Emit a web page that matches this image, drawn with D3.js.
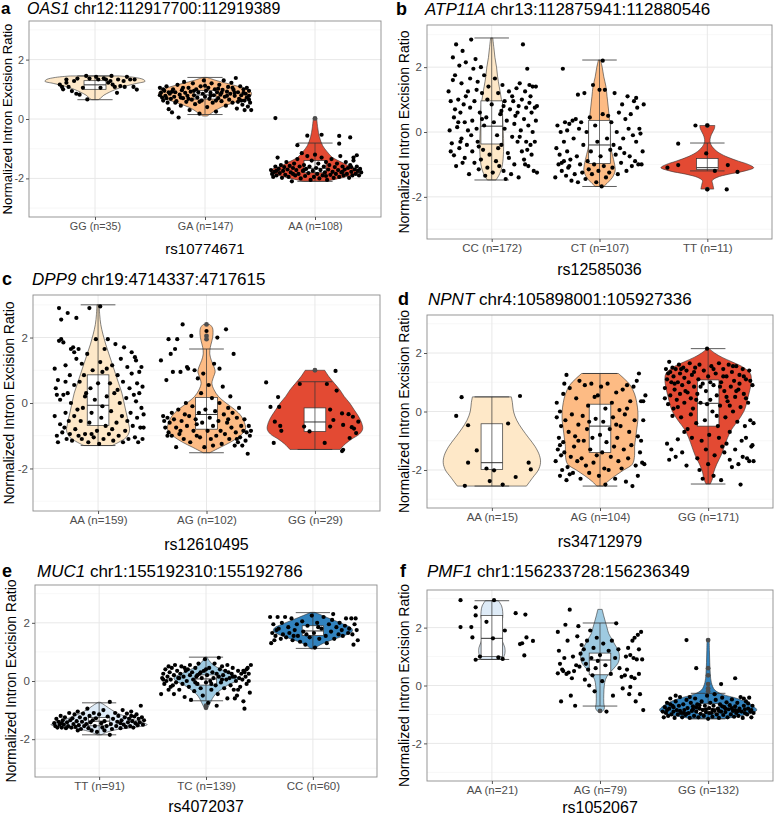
<!DOCTYPE html>
<html>
<head>
<meta charset="utf-8">
<script src="https://cdn.jsdelivr.net/npm/d3@7"></script>
<style>
  body { margin: 0; background: #fff; }
  svg { display: block; }
  text { font-family: "Liberation Sans", Arial, Helvetica, sans-serif; }
</style>
</head>
<body>
<svg id="chart" width="775" height="817"></svg>
<script>

// ---- panel texts ----
const letters = ['a', 'b', 'c', 'd', 'e', 'f'];
const genes = ['OAS1', 'ATP11A', 'DPP9', 'NPNT', 'MUC1', 'PMF1'];
const loci = ['chr12:112917700:112919389', 'chr13:112875941:112880546', 'chr19:4714337:4717615',
  'chr4:105898001:105927336', 'chr1:155192310:155192786', 'chr1:156233728:156236349'];
const snps = ['rs10774671', 'rs12585036', 'rs12610495', 'rs34712979', 'rs4072037', 'rs1052067'];
const yTicks = [-2, 0, 2];
const yMinor = [-3, -1, 1, 3];

// ---- panel a : OAS1 ----
const groupsA = ['GG (n=35)', 'GA (n=147)', 'AA (n=108)'];
// [lower whisker, q1, median, q3, upper whisker]
const boxA = [[0.65, 1.0, 1.15, 1.29, 1.45], [0.15, 0.67, 0.81, 0.96, 1.4], [-2.1, -1.81, -1.66, -1.40, -0.81]];
// violin outline: [value, half width in category units]
const violinA = [
  [[1.45, 0.22], [1.40, 0.36], [1.33, 0.44], [1.27, 0.455], [1.2, 0.38], [1.1, 0.27], [1.0, 0.19], [0.9, 0.13], [0.8, 0.08], [0.7, 0.05], [0.65, 0.03]],
  [[1.4, 0.02], [1.3, 0.1], [1.2, 0.2], [1.1, 0.3], [1.0, 0.38], [0.9, 0.42], [0.8, 0.42], [0.7, 0.38], [0.6, 0.3], [0.5, 0.22], [0.4, 0.15], [0.3, 0.1], [0.2, 0.06], [0.1, 0.02]],
  [[0.03, 0.015], [-0.3, 0.025], [-0.6, 0.04], [-0.9, 0.07], [-1.1, 0.11], [-1.3, 0.16], [-1.45, 0.24], [-1.6, 0.32], [-1.7, 0.39], [-1.8, 0.4], [-1.9, 0.33], [-2.0, 0.22], [-2.1, 0.1]]
];
const outliersA = [[], [], [0.02]];
// jittered samples: [x offset, value]
const pointsA = [
  [[-0.32,1.16],[-0.24,1.08],[-0.26,1.33],[-0.19,1.28],[-0.16,1.36],[-0.08,1.45],[-0.17,0.85],[-0.07,0.66],[0.03,1.33],[0.08,1.37],[0.1,1.33],[0.14,1.28],[0.16,1.16],[0.18,1.08],[0.21,1.33],[0.2,0.88],[0.26,1.28],[0.29,1.42],[0.32,1.33],[0.35,1.08],[0.38,0.99],[0.36,1.33],[-0.21,0.94],[-0.26,1.22],[-0.3,1.08],[-0.11,1.05],[-0.05,1.36],[0.05,1.05],[0.12,1.22],[0.23,1.11],[-0.14,0.82],[0.15,1.45],[0.27,1.08],[-0.29,1.0],[0.01,1.42]],
  [[-0.41,1.05],[-0.40,0.88],[-0.39,0.72],[-0.38,0.62],[-0.37,0.95],[-0.36,0.78],[-0.35,1.1],[-0.34,0.55],[-0.33,0.33],[-0.32,0.85],[-0.31,0.68],[-0.30,0.22],[-0.29,1.0],[-0.28,0.75],[-0.27,0.9],[-0.26,0.6],[-0.25,1.15],[-0.24,0.05],[-0.23,0.82],[-0.22,0.45],[-0.21,0.97],[-0.20,0.7],[-0.19,1.25],[-0.18,0.88],[-0.17,0.58],[-0.16,0.78],[-0.15,1.05],[-0.14,0.3],[-0.13,0.92],[-0.12,0.65],[-0.11,1.2],[-0.10,0.8],[-0.09,0.5],[-0.08,1.0],[-0.07,0.72],[-0.06,0.9],[-0.05,0.18],[-0.04,1.1],[-0.03,0.62],[-0.02,0.85],[-0.01,1.3],[0.0,0.75],[0.01,0.95],[0.02,0.4],[0.03,1.05],[0.04,0.68],[0.05,0.88],[0.06,1.2],[0.07,0.55],[0.08,0.8],[0.09,1.0],[0.10,0.25],[0.11,0.9],[0.12,0.7],[0.13,1.15],[0.14,0.82],[0.15,0.6],[0.16,0.98],[0.17,1.3],[0.18,0.75],[0.19,0.45],[0.20,0.92],[0.21,1.08],[0.22,0.65],[0.23,0.85],[0.24,1.22],[0.25,0.55],[0.26,0.98],[0.27,0.78],[0.28,1.38],[0.29,0.35],[0.30,0.9],[0.31,0.68],[0.32,1.1],[0.33,0.8],[0.34,0.48],[0.35,1.0],[0.36,0.62],[0.37,0.85],[0.38,0.72],[0.39,0.42],[0.40,0.95],[0.41,0.55],[0.42,0.3],[0.40,0.78],[0.38,1.05],[0.36,0.3],[0.33,0.62],[-0.41,0.8],[-0.38,1.0],[-0.35,0.7],[-0.3,0.92],[-0.27,0.55],[-0.2,1.05],[-0.15,0.68],[-0.1,0.95],[-0.05,0.58],[0.0,1.12],[0.05,0.78],[0.1,0.62],[0.15,0.88],[0.2,0.78],[0.25,1.05],[0.3,0.58],[0.35,0.88],[0.4,0.65],[-0.33,0.9],[-0.22,0.72],[0.12,1.02],[0.27,0.88]],
  [[-0.36,0.03],[-0.07,-0.56],[0.06,-0.53],[0.22,-0.57],[0.32,-0.62],[-0.16,-0.88],[0.22,-0.83],[-0.40,-1.72],[-0.39,-1.85],[-0.38,-1.95],[-0.37,-1.78],[-0.36,-1.6],[-0.35,-1.9],[-0.34,-1.3],[-0.33,-1.68],[-0.32,-1.82],[-0.31,-1.55],[-0.30,-1.98],[-0.29,-1.75],[-0.28,-1.62],[-0.27,-1.88],[-0.26,-1.45],[-0.25,-1.7],[-0.24,-1.95],[-0.23,-1.58],[-0.22,-1.8],[-0.21,-2.1],[-0.2,-1.65],[-0.19,-1.5],[-0.18,-1.9],[-0.17,-1.72],[-0.16,-1.35],[-0.15,-1.85],[-0.14,-1.6],[-0.13,-2.0],[-0.12,-1.15],[-0.11,-1.75],[-0.1,-1.55],[-0.09,-1.92],[-0.08,-1.68],[-0.07,-1.25],[-0.06,-1.82],[-0.05,-1.6],[-0.04,-2.05],[-0.03,-1.4],[-0.02,-1.75],[-0.01,-1.95],[0.0,-1.2],[0.01,-1.65],[0.02,-1.85],[0.03,-1.5],[0.04,-2.0],[0.05,-1.72],[0.06,-1.3],[0.07,-1.9],[0.08,-1.6],[0.09,-1.8],[0.1,-1.45],[0.11,-2.05],[0.12,-1.7],[0.13,-1.55],[0.14,-1.88],[0.15,-1.35],[0.16,-1.78],[0.17,-1.98],[0.18,-1.62],[0.19,-1.85],[0.2,-1.5],[0.21,-1.72],[0.22,-1.95],[0.23,-1.25],[0.24,-1.8],[0.25,-1.6],[0.26,-1.9],[0.27,-1.7],[0.28,-1.45],[0.29,-1.85],[0.3,-1.65],[0.31,-1.98],[0.32,-1.55],[0.33,-1.78],[0.34,-1.9],[0.35,-1.4],[0.36,-1.7],[0.37,-1.85],[0.38,-1.6],[0.39,-1.75],[0.4,-1.9],[0.41,-1.68],[0.42,-1.8],[0.38,-1.22],[0.35,-1.3],[-0.35,-1.75],[-0.2,-1.85],[-0.1,-1.72],[0.1,-1.92],[0.25,-1.78],[0.33,-1.62]]
];

// ---- panel b : ATP11A ----
const groupsB = ['CC (n=172)', 'CT (n=107)', 'TT (n=11)'];
const boxB = [[-1.48, -0.37, 0.18, 0.96, 2.9], [-1.68, -0.97, -0.4, 0.36, 2.22], [-1.2, -1.16, -1.1, -0.82, -0.34]];
const violinB = [
  [[2.9, 0.01], [2.6, 0.02], [2.3, 0.03], [2.0, 0.045], [1.7, 0.055], [1.4, 0.07], [1.0, 0.09], [0.6, 0.1], [0.2, 0.105], [-0.2, 0.11], [-0.6, 0.11], [-1.0, 0.1], [-1.2, 0.085], [-1.35, 0.065], [-1.48, 0.04]],
  [[2.22, 0.01], [2.0, 0.025], [1.7, 0.04], [1.4, 0.06], [1.1, 0.07], [0.8, 0.08], [0.5, 0.09], [0.2, 0.095], [-0.1, 0.1], [-0.4, 0.1], [-0.7, 0.12], [-1.0, 0.14], [-1.2, 0.145], [-1.4, 0.12], [-1.55, 0.08], [-1.68, 0.04]],
  [[0.2, 0.07], [0.1, 0.065], [0.0, 0.05], [-0.15, 0.03], [-0.3, 0.025], [-0.45, 0.045], [-0.6, 0.09], [-0.75, 0.17], [-0.9, 0.29], [-1.0, 0.38], [-1.1, 0.43], [-1.2, 0.35], [-1.3, 0.2], [-1.4, 0.09], [-1.5, 0.045], [-1.6, 0.05], [-1.76, 0.06]]
];
const outliersB = [[], [], [0.2, -1.76]];
const pointsB = [
  [[-0.4,1.25],[-0.39,0.05],[-0.38,0.95],[-0.37,-0.35],[-0.36,2.3],[-0.35,0.45],[-0.35,-0.72],[-0.34,1.75],[-0.33,2.7],[-0.33,-1.05],[-0.32,0.15],[-0.31,1.0],[-0.3,-0.5],[-0.3,2.05],[-0.29,0.6],[-0.28,-0.2],[-0.28,1.5],[-0.27,2.5],[-0.26,0.85],[-0.25,-0.8],[-0.25,0.3],[-0.24,2.15],[-0.23,-0.4],[-0.22,1.25],[-0.22,0.05],[-0.21,-1.3],[-0.2,0.75],[-0.2,1.65],[-0.19,2.85],[-0.18,-0.6],[-0.18,0.35],[-0.17,1.95],[-0.16,-0.95],[-0.16,0.95],[-0.15,2.25],[-0.14,0.1],[-0.13,-0.3],[-0.13,1.55],[-0.12,-1.15],[-0.11,0.6],[-0.1,2.0],[-0.1,-0.85],[-0.09,1.2],[-0.08,-0.55],[-0.07,0.2],[-0.07,1.75],[-0.06,-1.35],[-0.05,0.45],[-0.04,-1.1],[-0.03,1.4],[-0.02,-0.7],[0.0,0.85],[0.01,-1.25],[0.02,0.3],[0.03,1.65],[0.04,-0.9],[0.05,-0.1],[0.06,1.2],[0.07,-1.05],[0.08,0.55],[0.09,-0.4],[0.1,1.45],[0.11,-1.2],[0.12,0.1],[0.12,0.95],[0.13,-1.45],[0.14,0.35],[0.15,-0.65],[0.16,1.25],[0.17,0.7],[0.18,-1.3],[0.19,-0.15],[0.2,0.95],[0.21,-1.0],[0.22,0.5],[0.23,1.35],[0.24,-0.3],[0.25,-1.4],[0.25,0.8],[0.26,1.5],[0.27,0.05],[0.28,-0.6],[0.28,1.0],[0.29,2.7],[0.3,0.4],[0.3,-0.85],[0.31,1.25],[0.32,-0.3],[0.32,0.75],[0.33,1.95],[0.34,-1.05],[0.34,0.2],[0.35,0.9],[0.35,1.45],[0.36,-0.4],[0.37,0.6],[0.37,-0.7],[0.38,1.4],[0.38,0.0],[0.39,-1.2],[0.4,0.75],[0.4,-0.3],[0.41,1.4],[0.41,0.35],[0.42,-1.25],[0.42,0.8],[-0.38,-0.6],[-0.36,1.6],[-0.31,0.3],[-0.27,-0.95],[-0.24,1.1],[-0.19,-0.1],[-0.14,1.3],[-0.09,0.4],[-0.04,1.0],[0.06,-0.5],[0.11,0.8],[0.16,-0.8],[0.21,0.25],[0.26,-0.15],[0.31,-1.0],[0.36,1.1],[-0.34,0.7],[-0.29,-0.3],[-0.12,-0.45],[0.09,0.65],[0.19,1.1],[0.24,0.6],[0.33,-0.55]],
  [[-0.41,-1.4],[-0.4,-0.5],[-0.39,0.2],[-0.38,-1.0],[-0.37,-0.7],[-0.36,0.0],[-0.35,-1.2],[-0.34,1.95],[-0.33,-0.3],[-0.33,-0.9],[-0.32,0.3],[-0.31,-1.35],[-0.3,-0.6],[-0.3,0.05],[-0.29,-1.1],[-0.28,0.25],[-0.27,-0.85],[-0.26,-1.5],[-0.25,0.35],[-0.24,-0.2],[-0.23,-1.3],[-0.22,0.4],[-0.21,-0.75],[-0.2,1.15],[-0.2,-1.55],[-0.19,0.1],[-0.18,-1.0],[-0.17,0.3],[-0.16,-1.25],[-0.15,-0.4],[-0.14,1.2],[-0.13,-1.45],[-0.12,0.0],[-0.11,-0.9],[-0.1,-1.15],[-0.09,0.45],[-0.08,-0.6],[-0.07,-1.3],[-0.06,1.45],[-0.05,-1.0],[-0.04,0.2],[-0.03,-1.55],[-0.02,-0.3],[-0.01,-1.2],[0.0,1.3],[0.01,-0.75],[0.02,-1.68],[0.03,0.55],[0.04,-1.05],[0.05,1.3],[0.06,-1.4],[0.07,-0.2],[0.08,0.5],[0.09,-1.25],[0.1,-0.55],[0.11,0.3],[0.12,-1.1],[0.13,-0.4],[0.14,1.2],[0.15,-0.7],[0.16,0.0],[0.17,-1.3],[0.18,0.6],[0.19,-0.5],[0.2,-0.95],[0.21,0.85],[0.22,-0.2],[0.23,-0.65],[0.24,0.4],[0.25,-1.2],[0.26,1.1],[0.27,0.1],[0.28,-0.75],[0.29,0.55],[0.3,-1.05],[0.31,-0.1],[0.32,0.95],[0.33,-0.9],[0.34,-0.3],[0.35,0.75],[0.36,-1.0],[0.37,0.1],[0.38,-0.05],[0.39,-1.0],[0.4,-0.6],[0.41,0.85],[0.34,1.05],[-0.35,-0.95],[-0.28,-1.05],[0.03,2.2]],
  [[-0.37,-1.1],[-0.27,-1.02],[-0.27,-0.36],[-0.11,0.2],[0.0,0.2],[-0.01,-0.66],[0.0,-1.77],[0.07,-1.2],[0.19,-1.02],[0.28,-1.23],[0.18,-1.77]]
];

// ---- panel c : DPP9 ----
const groupsC = ['AA (n=159)', 'AG (n=102)', 'GG (n=29)'];
const boxC = [[-1.3, -0.69, -0.07, 0.86, 3.0], [-1.52, -0.8, -0.35, 0.17, 1.65], [-1.42, -0.87, -0.58, -0.15, 0.65]];
const violinC = [
  [[3.0, 0.01], [2.7, 0.015], [2.4, 0.025], [2.1, 0.045], [1.8, 0.07], [1.5, 0.1], [1.2, 0.13], [0.9, 0.16], [0.6, 0.19], [0.3, 0.22], [0.0, 0.24], [-0.3, 0.26], [-0.6, 0.28], [-0.85, 0.29], [-1.05, 0.26], [-1.2, 0.19], [-1.3, 0.13]],
  [[2.4, 0.03], [2.3, 0.055], [2.1, 0.06], [1.9, 0.05], [1.7, 0.035], [1.5, 0.03], [1.3, 0.045], [1.1, 0.07], [0.95, 0.08], [0.8, 0.065], [0.6, 0.05], [0.4, 0.07], [0.2, 0.11], [0.0, 0.18], [-0.2, 0.26], [-0.4, 0.32], [-0.6, 0.35], [-0.8, 0.36], [-1.0, 0.31], [-1.2, 0.22], [-1.35, 0.13], [-1.52, 0.03]],
  [[1.0, 0.09], [0.8, 0.13], [0.6, 0.18], [0.4, 0.23], [0.2, 0.27], [0.0, 0.32], [-0.2, 0.36], [-0.4, 0.4], [-0.6, 0.43], [-0.8, 0.44], [-0.95, 0.41], [-1.1, 0.34], [-1.25, 0.28], [-1.42, 0.23]]
];
const outliersC = [[], [2.4, 2.05, 1.95], [1.0]];
const pointsC = [
  [[-0.4,1.05],[-0.4,-0.4],[-0.39,0.45],[-0.38,-1.0],[-0.37,-1.2],[-0.37,0.7],[-0.36,2.9],[-0.36,1.9],[-0.35,-0.65],[-0.35,0.1],[-0.34,2.55],[-0.34,1.95],[-0.33,-0.9],[-0.32,0.25],[-0.32,1.85],[-0.31,-0.75],[-0.3,-0.3],[-0.3,0.65],[-0.29,-1.1],[-0.28,2.75],[-0.28,0.3],[-0.27,-0.55],[-0.26,-0.95],[-0.25,1.65],[-0.25,0.0],[-0.24,-1.15],[-0.23,1.7],[-0.22,-0.4],[-0.22,0.55],[-0.21,-0.8],[-0.2,2.6],[-0.2,1.35],[-0.19,-0.2],[-0.18,1.65],[-0.18,-1.0],[-0.17,0.65],[-0.16,-0.55],[-0.15,1.2],[-0.15,-1.1],[-0.14,-0.15],[-0.13,0.85],[-0.12,-0.95],[-0.11,0.3],[-0.1,1.5],[-0.09,-1.2],[-0.08,2.9],[-0.08,-0.6],[-0.07,0.45],[-0.06,-0.3],[-0.05,1.0],[-0.04,-1.05],[-0.03,0.1],[-0.02,1.95],[-0.01,-0.85],[0.0,0.6],[0.01,-1.25],[0.02,1.25],[0.03,-0.45],[0.04,0.95],[0.05,-1.1],[0.06,1.65],[0.07,-0.7],[0.08,0.2],[0.09,1.95],[0.1,-0.95],[0.11,0.6],[0.12,-0.25],[0.13,1.15],[0.14,-1.15],[0.15,0.3],[0.16,1.8],[0.17,-0.6],[0.18,0.85],[0.19,-1.0],[0.2,0.0],[0.21,1.35],[0.22,-0.4],[0.23,0.65],[0.24,1.7],[0.25,-0.85],[0.26,0.15],[0.27,1.1],[0.28,-1.1],[0.29,0.45],[0.3,-0.3],[0.31,1.55],[0.31,0.9],[0.32,-0.7],[0.33,0.25],[0.34,-1.05],[0.34,1.4],[0.35,0.05],[0.36,0.6],[0.36,-0.45],[0.37,-1.2],[0.38,0.95],[0.38,0.3],[0.39,-0.75],[0.4,1.1],[0.4,-0.15],[0.41,-1.1],[0.41,0.5],[0.42,-0.35],[0.42,-0.75],[-0.3,1.15],[-0.22,1.55],[-0.12,0.2],[0.02,2.95],[0.08,1.05],[0.18,0.4],[0.27,-0.55],[0.35,1.3],[-0.38,0.25],[-0.06,-0.95],[0.13,-0.8],[0.23,-1.2],[-0.26,0.85],[0.04,-0.1]],
  [[-0.42,1.3],[-0.4,-0.4],[-0.39,-0.55],[-0.38,-0.75],[-0.37,0.7],[-0.36,-0.45],[-0.35,1.95],[-0.35,-0.9],[-0.34,-0.6],[-0.33,1.5],[-0.32,-0.3],[-0.32,-1.0],[-0.31,0.95],[-0.3,-0.5],[-0.29,1.65],[-0.28,-0.75],[-0.28,-1.35],[-0.27,1.95],[-0.26,-0.2],[-0.25,-0.95],[-0.24,0.95],[-0.23,-0.55],[-0.22,2.4],[-0.21,-1.1],[-0.2,-0.35],[-0.19,0.0],[-0.18,-0.7],[-0.17,1.05],[-0.16,-0.4],[-0.15,-1.2],[-0.14,2.05],[-0.13,-0.1],[-0.12,-0.85],[-0.11,1.0],[-0.1,-0.5],[-0.09,-1.0],[-0.08,0.75],[-0.07,-0.3],[-0.06,-1.05],[-0.05,0.3],[-0.04,-0.6],[-0.03,0.9],[-0.02,-1.35],[-0.01,-0.2],[0.0,2.2],[0.01,-0.85],[0.02,0.55],[0.03,-0.45],[0.04,-1.1],[0.05,0.15],[0.06,-0.7],[0.07,1.2],[0.08,-0.25],[0.09,-1.0],[0.1,2.0],[0.11,-0.55],[0.12,0.0],[0.13,-0.85],[0.14,-1.25],[0.15,0.5],[0.16,-0.35],[0.17,-0.95],[0.18,2.25],[0.19,-0.6],[0.2,-0.15],[0.21,-1.1],[0.22,0.2],[0.23,-0.75],[0.24,-0.3],[0.25,1.5],[0.26,-1.3],[0.27,-0.9],[0.28,-0.45],[0.29,-1.2],[0.3,-0.15],[0.31,-1.05],[0.32,-0.7],[0.33,-1.3],[0.34,-0.85],[0.35,-0.5],[0.36,-1.15],[0.37,-0.9],[0.38,-1.55],[0.39,-0.7],[0.4,-1.0],[0.41,-0.85],[-0.36,-1.0],[-0.24,-0.85],[-0.09,-0.65],[0.06,-1.3],[0.2,-0.5],[0.28,-1.1],[-0.18,1.1],[0.12,1.05]],
  [[-0.45,0.63],[-0.38,-1.22],[-0.41,-0.12],[-0.34,0.18],[-0.33,-0.12],[-0.32,-0.7],[-0.31,-0.85],[-0.37,-0.57],[-0.14,0.58],[-0.1,-0.72],[-0.05,-0.87],[0.11,0.58],[0.19,0.98],[0.2,0.38],[0.14,-0.2],[0.17,-0.52],[0.09,-1.22],[0.25,-0.32],[0.26,-0.67],[0.31,-0.34],[0.35,-0.42],[0.32,-1.07],[0.26,-1.43],[0.25,-1.47],[0.36,-0.78],[0.4,-0.57],[0.38,-0.92],[0.34,-0.74],[0.14,-0.72]]
];

// ---- panel d : NPNT ----
const groupsD = ['AA (n=15)', 'AG (n=104)', 'GG (n=171)'];
const boxD = [[-2.55, -1.98, -1.75, -0.42, 0.5], [-2.55, -1.4, -0.5, 0.25, 1.3], [-2.48, -0.5, 0.28, 1.08, 2.15]];
const violinD = [
  [[0.5, 0.18], [0.3, 0.19], [0.0, 0.2], [-0.3, 0.23], [-0.6, 0.28], [-0.9, 0.34], [-1.2, 0.4], [-1.5, 0.44], [-1.75, 0.45], [-2.0, 0.43], [-2.25, 0.38], [-2.55, 0.32]],
  [[1.3, 0.17], [1.1, 0.23], [0.9, 0.28], [0.6, 0.32], [0.3, 0.34], [0.0, 0.35], [-0.3, 0.35], [-0.6, 0.34], [-0.9, 0.33], [-1.2, 0.32], [-1.5, 0.32], [-1.8, 0.3], [-2.0, 0.22], [-2.2, 0.14], [-2.4, 0.07], [-2.55, 0.03]],
  [[2.15, 0.01], [2.0, 0.06], [1.85, 0.13], [1.7, 0.22], [1.5, 0.33], [1.3, 0.39], [1.1, 0.4], [0.8, 0.39], [0.5, 0.37], [0.2, 0.35], [0.0, 0.33], [-0.3, 0.28], [-0.6, 0.22], [-0.9, 0.18], [-1.2, 0.15], [-1.5, 0.12], [-1.8, 0.08], [-2.1, 0.05], [-2.3, 0.04], [-2.48, 0.02]]
];
const outliersD = [[], [], []];
const pointsD = [
  [[-0.33,-0.15],[-0.28,0.49],[-0.22,-0.47],[-0.22,-1.75],[-0.14,-1.33],[-0.25,-2.54],[-0.02,-2.38],[0.02,-2.01],[0.15,-0.41],[0.26,0.53],[0.22,-2.24],[0.34,-1.75],[0.36,-1.98],[-0.05,-1.95],[0.1,-2.5]],
  [[-0.41,-1.7],[-0.4,-0.2],[-0.4,0.3],[-0.39,-1.3],[-0.38,-0.9],[-0.37,-2.2],[-0.37,0.0],[-0.36,-1.5],[-0.36,-0.5],[-0.35,-2.0],[-0.34,-1.05],[-0.34,0.6],[-0.33,-1.4],[-0.32,-0.3],[-0.31,-2.35],[-0.31,1.25],[-0.3,-1.9],[-0.29,-0.7],[-0.28,0.8],[-0.27,-1.55],[-0.26,-0.1],[-0.25,-2.1],[-0.24,-1.2],[-0.23,-0.85],[-0.22,0.45],[-0.21,-1.7],[-0.2,-0.45],[-0.19,1.05],[-0.18,-2.3],[-0.17,-1.6],[-0.16,-0.15],[-0.15,-1.0],[-0.14,0.9],[-0.13,-1.85],[-0.12,-0.6],[-0.11,0.2],[-0.1,-2.1],[-0.09,-1.3],[-0.08,0.95],[-0.07,-0.9],[-0.06,-1.75],[-0.05,0.5],[-0.04,-0.25],[-0.03,-1.5],[-0.02,0.55],[-0.01,-2.2],[0.0,-0.8],[0.01,0.85],[0.02,-1.4],[0.03,-0.35],[0.04,-1.95],[0.05,0.1],[0.06,-1.05],[0.07,0.95],[0.08,-2.0],[0.09,-0.6],[0.1,-1.55],[0.11,0.3],[0.12,-0.2],[0.13,-1.2],[0.14,-2.3],[0.15,0.65],[0.16,-0.9],[0.17,-1.7],[0.18,0.05],[0.19,-0.5],[0.2,-1.95],[0.21,0.75],[0.22,-1.3],[0.23,-0.1],[0.24,-2.4],[0.25,0.9],[0.26,-1.6],[0.27,-0.7],[0.28,0.35],[0.29,-1.15],[0.3,-2.55],[0.31,0.85],[0.32,-0.3],[0.33,-1.85],[0.34,1.05],[0.35,-0.85],[0.36,1.3],[0.37,-1.4],[0.38,0.35],[0.39,-1.75],[0.4,-0.3],[0.41,-1.8],[0.42,0.55],[0.4,0.35],[0.38,-1.0],[0.35,-2.2],[-0.33,0.95],[-0.28,-2.15],[-0.2,-1.0],[-0.1,-0.35],[0.05,-2.5],[0.15,-0.45],[0.25,0.1],[-0.37,-1.15]],
  [[-0.4,0.8],[-0.39,1.45],[-0.38,1.1],[-0.37,0.25],[-0.36,1.7],[-0.35,1.35],[-0.35,0.55],[-0.34,1.0],[-0.33,1.5],[-0.32,0.1],[-0.32,1.2],[-0.31,0.75],[-0.3,1.45],[-0.29,0.4],[-0.28,1.0],[-0.27,1.6],[-0.26,0.6],[-0.26,1.3],[-0.25,-0.2],[-0.24,0.9],[-0.23,1.5],[-0.22,0.3],[-0.22,1.15],[-0.21,0.7],[-0.2,1.4],[-0.19,-0.6],[-0.18,1.0],[-0.17,1.65],[-0.16,0.45],[-0.15,1.25],[-0.14,0.1],[-0.13,0.85],[-0.12,1.5],[-0.11,-0.4],[-0.1,0.6],[-0.09,1.1],[-0.08,1.6],[-0.07,0.3],[-0.06,-1.0],[-0.05,0.95],[-0.04,1.4],[-0.03,-0.3],[-0.02,0.7],[-0.01,2.15],[0.0,1.2],[0.01,-0.8],[0.02,0.4],[0.03,1.55],[0.04,0.0],[0.05,0.9],[0.06,-1.5],[0.07,1.3],[0.08,0.55],[0.09,-0.5],[0.1,1.65],[0.11,0.2],[0.12,1.0],[0.13,-1.2],[0.14,1.45],[0.15,0.7],[0.16,-0.2],[0.17,1.2],[0.18,0.35],[0.19,1.6],[0.2,-0.7],[0.21,0.85],[0.22,1.35],[0.23,0.0],[0.24,1.05],[0.25,0.5],[0.26,1.55],[0.27,-0.35],[0.28,0.75],[0.29,1.25],[0.3,0.15],[0.31,-1.0],[0.32,1.45],[0.33,0.6],[0.34,-0.5],[0.35,1.1],[0.36,-1.6],[0.37,0.3],[0.38,1.4],[0.39,-0.3],[0.4,-1.2],[0.41,0.9],[0.42,-0.4],[-0.38,-1.1],[-0.36,-1.65],[-0.34,-1.3],[-0.3,-1.55],[-0.28,-0.95],[-0.24,-1.4],[-0.2,-1.85],[-0.15,-0.9],[-0.1,-1.6],[-0.05,-2.3],[0.0,-1.8],[0.05,-2.2],[0.1,-0.9],[0.15,-1.4],[0.2,-1.65],[0.25,-1.3],[0.28,-1.8],[0.32,-1.55],[0.35,-0.9],[0.38,-1.7],[0.41,-1.15],[0.42,-1.7],[0.3,-2.5],[0.22,-1.9],[0.17,-1.1],[-0.02,-1.3],[-0.08,-2.0],[-0.22,-0.7],[-0.33,-0.15],[0.12,-2.35],[-0.37,1.3],[-0.31,0.95],[-0.25,1.45],[-0.19,0.65],[-0.13,1.35],[-0.07,0.85],[-0.01,0.25],[0.05,1.45],[0.11,0.85],[0.17,0.5],[0.23,1.55],[0.29,0.95],[0.35,0.45],[0.39,1.05],[-0.28,0.15],[-0.16,-0.1],[0.08,-0.15],[0.2,0.2],[0.33,1.2],[-0.4,0.45],[0.14,1.2],[-0.11,0.4],[0.02,1.0],[0.26,0.7]]
];

// ---- panel e : MUC1 ----
const groupsE = ['TT (n=91)', 'TC (n=139)', 'CC (n=60)'];
const boxE = [[-1.85, -1.54, -1.38, -1.25, -0.75], [-0.68, -0.14, 0.07, 0.21, 0.82], [1.12, 1.56, 1.72, 1.9, 2.35]];
const violinE = [
  [[-0.73, 0.01], [-0.85, 0.06], [-1.0, 0.12], [-1.15, 0.2], [-1.3, 0.3], [-1.42, 0.4], [-1.5, 0.45], [-1.58, 0.36], [-1.66, 0.18], [-1.75, 0.08], [-1.85, 0.02]],
  [[0.82, 0.01], [0.65, 0.04], [0.5, 0.09], [0.35, 0.17], [0.2, 0.26], [0.1, 0.3], [0.0, 0.28], [-0.15, 0.2], [-0.3, 0.14], [-0.45, 0.09], [-0.6, 0.06], [-0.75, 0.04], [-0.9, 0.02]],
  [[2.36, 0.02], [2.25, 0.09], [2.1, 0.19], [1.95, 0.29], [1.82, 0.36], [1.72, 0.37], [1.6, 0.32], [1.5, 0.25], [1.4, 0.17], [1.3, 0.1], [1.2, 0.05], [1.1, 0.02]]
];
const outliersE = [[], [-0.85, -0.92], []];
const pointsE = [
  [[-0.42,-1.45],[-0.41,-1.55],[-0.4,-1.3],[-0.39,-1.6],[-0.38,-1.4],[-0.37,-1.5],[-0.36,-1.2],[-0.35,-1.6],[-0.34,-1.35],[-0.33,-1.5],[-0.32,-1.25],[-0.31,-1.62],[-0.3,-1.42],[-0.29,-1.55],[-0.28,-1.1],[-0.27,-1.35],[-0.26,-1.6],[-0.25,-1.28],[-0.24,-1.48],[-0.23,-1.15],[-0.22,-1.58],[-0.21,-1.38],[-0.2,-1.05],[-0.19,-1.52],[-0.18,-1.25],[-0.17,-1.65],[-0.16,-1.4],[-0.15,-1.12],[-0.14,-1.55],[-0.13,-1.3],[-0.12,-1.48],[-0.11,-0.95],[-0.1,-1.62],[-0.09,-1.2],[-0.08,-1.42],[-0.07,-1.7],[-0.06,-1.35],[-0.05,-1.1],[-0.04,-1.55],[-0.03,-1.28],[-0.02,-1.75],[0.0,-1.15],[0.02,-1.45],[0.03,-1.6],[0.04,-1.0],[0.05,-1.38],[0.07,-1.55],[0.08,-1.22],[0.1,-0.72],[0.11,-1.48],[0.12,-1.65],[0.13,-1.3],[0.15,-1.1],[0.16,-1.55],[0.17,-1.4],[0.18,-1.2],[0.2,-1.62],[0.21,-1.35],[0.22,-1.0],[0.23,-1.5],[0.24,-1.25],[0.25,-1.58],[0.26,-1.12],[0.27,-1.42],[0.28,-1.3],[0.29,-1.55],[0.3,-1.05],[0.31,-1.38],[0.32,-1.6],[0.33,-1.22],[0.34,-1.45],[0.35,-1.15],[0.36,-1.52],[0.37,-1.3],[0.38,-1.42],[0.39,-0.85],[0.4,-1.25],[0.41,-1.5],[0.42,-1.35],[0.1,-1.85],[-0.2,-1.7],[0.3,-1.2],[-0.35,-1.45],[0.05,-1.7],[0.2,-1.45]],
  [[-0.42,-0.45],[-0.41,0.1],[-0.4,0.25],[-0.39,-0.1],[-0.38,0.4],[-0.37,0.0],[-0.36,0.15],[-0.35,-0.3],[-0.34,0.3],[-0.33,0.05],[-0.32,0.45],[-0.31,-0.15],[-0.3,0.2],[-0.29,0.55],[-0.28,-0.05],[-0.27,0.35],[-0.26,0.1],[-0.25,-0.3],[-0.24,0.25],[-0.23,0.5],[-0.22,-0.1],[-0.21,0.15],[-0.2,-0.55],[-0.19,0.35],[-0.18,0.0],[-0.17,0.4],[-0.16,-0.2],[-0.15,0.2],[-0.14,-0.65],[-0.13,0.3],[-0.12,0.05],[-0.11,-0.35],[-0.1,0.45],[-0.09,0.15],[-0.08,-0.1],[-0.07,0.6],[-0.06,0.25],[-0.05,-0.25],[-0.04,0.1],[-0.03,-0.5],[-0.02,0.35],[-0.01,0.75],[0.0,-0.05],[0.01,0.2],[0.02,-0.75],[0.03,0.45],[0.04,0.0],[0.05,-0.3],[0.06,0.3],[0.07,0.1],[0.08,0.6],[0.09,-0.15],[0.1,0.25],[0.11,-0.45],[0.12,0.15],[0.13,0.4],[0.14,-0.05],[0.15,0.5],[0.16,0.2],[0.17,-0.25],[0.18,0.35],[0.19,0.05],[0.2,-0.6],[0.21,0.3],[0.22,0.1],[0.23,-0.15],[0.24,0.25],[0.25,0.45],[0.26,-0.3],[0.27,0.15],[0.28,0.0],[0.29,-0.5],[0.3,0.35],[0.31,0.1],[0.32,-0.2],[0.33,0.25],[0.34,0.05],[0.35,-0.7],[0.36,0.3],[0.37,0.15],[0.38,-0.1],[0.39,0.45],[0.4,0.25],[0.41,-0.4],[0.42,0.55],[0.4,0.0],[0.38,0.4],[0.36,-0.95],[0.3,-0.3],[0.2,0.55],[0.1,-0.85],[0.0,0.4],[-0.1,-0.05],[-0.2,0.45],[-0.3,-0.45],[-0.4,0.05],[-0.35,0.5],[-0.25,0.1],[-0.15,0.55],[-0.05,0.3],[0.05,-0.1],[0.15,0.05],[0.25,0.15],[0.35,0.35],[-0.33,-0.2],[0.27,-0.6],[0.12,0.8],[-0.08,0.2]],
  [[-0.4,2.2],[-0.39,1.3],[-0.38,1.65],[-0.37,1.95],[-0.36,1.4],[-0.35,1.55],[-0.33,2.2],[-0.32,1.8],[-0.3,1.45],[-0.29,2.0],[-0.28,1.6],[-0.26,2.2],[-0.25,1.5],[-0.23,1.85],[-0.22,1.65],[-0.2,2.15],[-0.19,1.4],[-0.17,1.75],[-0.15,1.95],[-0.14,1.55],[-0.12,1.35],[-0.1,2.05],[-0.09,1.7],[-0.07,1.25],[-0.05,1.9],[-0.03,1.5],[-0.01,2.25],[0.01,1.65],[0.02,1.15],[0.04,2.0],[0.06,1.45],[0.08,1.8],[0.1,2.2],[0.12,1.55],[0.13,1.3],[0.15,1.95],[0.17,1.7],[0.18,2.1],[0.2,1.45],[0.22,1.85],[0.24,1.6],[0.25,2.0],[0.27,1.75],[0.28,1.55],[0.3,1.9],[0.31,2.15],[0.33,1.65],[0.34,1.8],[0.36,2.15],[0.37,1.6],[0.38,1.25],[0.39,1.95],[0.41,1.75],[0.42,1.4],[0.4,2.15],[-0.34,1.75],[-0.18,1.55],[0.05,1.85],[0.19,2.3],[-0.06,1.6]]
];

// ---- panel f : PMF1 ----
const groupsF = ['AA (n=21)', 'AG (n=79)', 'GG (n=132)'];
const boxF = [[0.9, 1.0, 1.63, 2.42, 2.93], [-0.71, 0.37, 0.88, 1.12, 2.16], [-1.15, -0.97, -0.8, -0.63, -0.27]];
const violinF = [
  [[2.93, 0.06], [2.75, 0.09], [2.55, 0.1], [2.35, 0.1], [2.15, 0.085], [1.95, 0.075], [1.75, 0.08], [1.5, 0.1], [1.3, 0.12], [1.1, 0.12], [0.9, 0.1]],
  [[2.63, 0.02], [2.4, 0.035], [2.2, 0.05], [2.0, 0.065], [1.8, 0.08], [1.6, 0.11], [1.4, 0.14], [1.2, 0.17], [1.0, 0.18], [0.8, 0.17], [0.6, 0.13], [0.4, 0.08], [0.2, 0.05], [0.0, 0.04], [-0.3, 0.035], [-0.6, 0.035], [-0.8, 0.04], [-0.9, 0.02]],
  [[1.6, 0.01], [1.2, 0.012], [0.8, 0.015], [0.4, 0.02], [0.1, 0.03], [-0.15, 0.06], [-0.3, 0.13], [-0.45, 0.27], [-0.6, 0.37], [-0.75, 0.43], [-0.85, 0.45], [-0.95, 0.41], [-1.05, 0.3], [-1.15, 0.15]]
];
const outliersF = [[], [-0.88], [1.57, 0.6, 0.35, 0.05, -0.1, -0.2]];
const pointsF = [
  [[-0.29,2.95],[-0.15,2.7],[-0.15,2.42],[-0.29,2.02],[-0.19,2.02],[-0.18,1.66],[-0.15,0.89],[-0.11,1.0],[0.02,2.95],[0.1,0.92],[0.06,0.97],[0.22,2.5],[0.31,2.45],[0.26,1.43],[0.28,1.46],[0.32,1.66],[0.38,1.54],[0.3,1.04],[0.01,1.63],[-0.05,2.2],[0.12,1.9]],
  [[-0.39,1.85],[-0.39,0.42],[-0.38,1.2],[-0.37,0.75],[-0.36,-0.55],[-0.35,0.55],[-0.34,0.5],[-0.33,0.95],[-0.32,2.1],[-0.31,0.4],[-0.3,1.55],[-0.29,0.45],[-0.28,2.62],[-0.27,-0.35],[-0.26,0.25],[-0.25,1.0],[-0.24,0.5],[-0.23,-0.7],[-0.22,0.7],[-0.21,1.7],[-0.2,2.05],[-0.19,0.65],[-0.18,1.1],[-0.17,1.4],[-0.16,0.9],[-0.15,1.25],[-0.14,0.2],[-0.13,0.75],[-0.12,1.55],[-0.11,0.55],[-0.1,0.0],[-0.09,1.9],[-0.08,0.95],[-0.07,0.35],[-0.06,1.3],[-0.05,-0.2],[-0.04,0.6],[-0.03,1.65],[-0.02,0.85],[0.0,1.05],[0.02,0.15],[0.03,1.45],[0.05,0.7],[0.06,-0.9],[0.08,1.2],[0.1,0.4],[0.11,1.55],[0.12,-0.35],[0.14,0.95],[0.15,2.15],[0.17,1.25],[0.18,0.6],[0.2,0.3],[0.21,-0.1],[0.23,0.35],[0.24,1.0],[0.25,0.55],[0.26,1.3],[0.27,-0.3],[0.28,1.05],[0.29,0.3],[0.3,1.55],[0.31,0.95],[0.32,1.65],[0.33,-0.55],[0.34,0.9],[0.35,1.75],[0.36,0.4],[0.37,-0.3],[0.38,1.85],[0.39,0.9],[0.4,-0.85],[0.36,1.25],[0.32,0.25],[0.28,-0.05]],
  [[-0.42,-0.9],[-0.41,-1.1],[-0.4,-0.75],[-0.39,-0.95],[-0.38,-0.6],[-0.37,-1.05],[-0.36,-0.8],[-0.35,-0.45],[-0.34,-1.0],[-0.33,-0.7],[-0.32,-0.9],[-0.31,-1.12],[-0.3,-0.55],[-0.29,-0.85],[-0.28,-1.0],[-0.27,-0.7],[-0.26,-0.4],[-0.25,-0.95],[-0.24,-1.1],[-0.23,-0.65],[-0.22,-0.85],[-0.21,-1.02],[-0.2,-0.5],[-0.19,-0.78],[-0.18,-0.95],[-0.17,-1.12],[-0.16,-0.6],[-0.15,-0.88],[-0.14,-0.72],[-0.13,-1.05],[-0.12,-0.45],[-0.11,-0.9],[-0.1,-0.65],[-0.09,-1.1],[-0.08,-0.8],[-0.07,-0.98],[-0.06,-0.55],[-0.05,-0.85],[-0.04,-1.05],[-0.03,-0.7],[-0.02,-0.92],[-0.01,-0.35],[0.0,-1.15],[0.01,-0.78],[0.02,-0.6],[0.03,-0.95],[0.04,-1.08],[0.05,-0.7],[0.06,-0.88],[0.07,-0.5],[0.08,-1.0],[0.09,-0.8],[0.1,-1.12],[0.11,-0.65],[0.12,-0.9],[0.13,-0.42],[0.14,-1.02],[0.15,-0.75],[0.16,-0.92],[0.17,-0.58],[0.18,-1.1],[0.19,-0.82],[0.2,-0.68],[0.21,-1.0],[0.22,-0.48],[0.23,-0.88],[0.24,-1.08],[0.25,-0.72],[0.26,-0.95],[0.27,-0.6],[0.28,-1.05],[0.29,-0.8],[0.3,-0.4],[0.31,-0.9],[0.32,-1.12],[0.33,-0.7],[0.34,-0.95],[0.35,-0.55],[0.36,-1.0],[0.37,-0.8],[0.38,-0.42],[0.39,-0.9],[0.4,-1.1],[0.41,-0.7],[0.42,-0.95],[-0.38,-0.85],[-0.32,-0.75],[-0.26,-0.88],[-0.2,-0.98],[-0.14,-0.82],[-0.08,-0.68],[-0.02,-0.82],[0.04,-0.85],[0.1,-0.88],[0.16,-0.8],[0.22,-0.78],[0.28,-0.88],[0.34,-0.82],[0.4,-0.85],[-0.35,-0.65],[-0.23,-0.95],[-0.11,-0.75],[0.01,-0.95],[0.13,-0.72],[0.25,-0.85],[0.37,-0.62],[-0.2,1.57],[-0.11,0.6],[0.12,0.05],[0.25,0.25],[-0.3,-0.35],[0.33,-0.45],[-0.17,-0.4],[0.06,-0.3]]
];

// ---- fills ----
const orangeFills = ['#FEE8C8', '#FDBB84', '#E34A33'];
const blueFills = ['#DEEBF7', '#9ECAE1', '#3182BD'];

// ---- page layout (pixel boxes of each panel) ----
const panels = [
  { groups: groupsA, box: boxA, violin: violinA, points: pointsA, outliers: outliersA, fills: orangeFills,
    x0: 29, x1: 381, y0: 21, y1: 217, ty: 14, lx: 1, tx: 27, yl: 12, sy: 254, s: 0.94 },
  { groups: groupsB, box: boxB, violin: violinB, points: pointsB, outliers: outliersB, fills: orangeFills,
    x0: 427, x1: 772, y0: 25, y1: 239, ty: 15, lx: 396, tx: 425, yl: 409, sy: 275, s: 1 },
  { groups: groupsC, box: boxC, violin: violinC, points: pointsC, outliers: outliersC, fills: orangeFills,
    x0: 33, x1: 380, y0: 295, y1: 511, ty: 285, lx: 2, tx: 32, yl: 14, sy: 550, s: 1 },
  { groups: groupsD, box: boxD, violin: violinD, points: pointsD, outliers: outliersD, fills: orangeFills,
    x0: 427, x1: 773, y0: 315, y1: 508, ty: 305, lx: 398, tx: 428, yl: 409, sy: 547, s: 1 },
  { groups: groupsE, box: boxE, violin: violinE, points: pointsE, outliers: outliersE, fills: blueFills,
    x0: 35, x1: 377, y0: 585, y1: 777, ty: 577, lx: 2, tx: 37, yl: 16, sy: 812, s: 1 },
  { groups: groupsF, box: boxF, violin: violinF, points: pointsF, outliers: outliersF, fills: blueFills,
    x0: 427, x1: 773, y0: 590, y1: 781, ty: 577, lx: 400, tx: 427, yl: 409, sy: 813, s: 1 }
];

const svg = d3.select('#chart');

function drawPanel(p, k) {
  const x = d3.scaleLinear().domain([0.4, 3.6]).range([p.x0, p.x1]);
  const y = d3.scaleLinear().domain([-3.3, 3.3]).range([p.y1, p.y0]);
  const g = svg.append('g');

  // grid
  g.selectAll('line.minor').data(yMinor).enter().append('line')
    .attr('x1', p.x0).attr('x2', p.x1)
    .attr('y1', d => y(d)).attr('y2', d => y(d))
    .attr('stroke', '#f2f2f2').attr('stroke-width', 0.6);
  g.selectAll('line.majory').data(yTicks).enter().append('line')
    .attr('x1', p.x0).attr('x2', p.x1)
    .attr('y1', d => y(d)).attr('y2', d => y(d))
    .attr('stroke', '#e8e8e8').attr('stroke-width', 1);
  g.selectAll('line.majorx').data(p.groups).enter().append('line')
    .attr('x1', (d, i) => x(i + 1)).attr('x2', (d, i) => x(i + 1))
    .attr('y1', p.y0).attr('y2', p.y1)
    .attr('stroke', '#e8e8e8').attr('stroke-width', 1);

  p.groups.forEach((grp, i) => {
    const c = i + 1;

    // violin
    const area = d3.area()
      .curve(d3.curveCatmullRom)
      .y(d => y(d[0]))
      .x0(d => x(c - d[1]))
      .x1(d => x(c + d[1]));
    g.append('path')
      .datum(p.violin[i])
      .attr('d', area)
      .attr('fill', p.fills[i])
      .attr('stroke', '#333')
      .attr('stroke-width', 0.6);

    // box
    const b = p.box[i];
    g.append('rect')
      .attr('x', x(c - 0.1))
      .attr('width', x(c + 0.1) - x(c - 0.1))
      .attr('y', y(b[3]))
      .attr('height', y(b[1]) - y(b[3]))
      .attr('fill', '#fff')
      .attr('stroke', '#333')
      .attr('stroke-width', 0.7);
    g.append('line')
      .attr('x1', x(c - 0.1)).attr('x2', x(c + 0.1))
      .attr('y1', y(b[2])).attr('y2', y(b[2]))
      .attr('stroke', '#333').attr('stroke-width', 1);

    // error bar (whiskers)
    g.append('line')
      .attr('x1', x(c)).attr('x2', x(c))
      .attr('y1', y(b[0])).attr('y2', y(b[4]))
      .attr('stroke', '#333').attr('stroke-width', 0.7);
    g.selectAll(null).data([b[0], b[4]]).enter().append('line')
      .attr('x1', x(c - 0.16)).attr('x2', x(c + 0.16))
      .attr('y1', d => y(d)).attr('y2', d => y(d))
      .attr('stroke', '#333').attr('stroke-width', 0.8);

    // outliers from boxplot
    g.selectAll(null).data(p.outliers[i]).enter().append('circle')
      .attr('cx', x(c)).attr('cy', d => y(d))
      .attr('r', 2.4).attr('fill', '#4d4d4d');

    // jittered samples
    g.selectAll(null).data(p.points[i]).enter().append('circle')
      .attr('cx', d => x(c + d[0]))
      .attr('cy', d => y(d[1]))
      .attr('r', 2.1)
      .attr('fill', '#000');
  });

  // border
  g.append('rect')
    .attr('x', p.x0).attr('y', p.y0)
    .attr('width', p.x1 - p.x0).attr('height', p.y1 - p.y0)
    .attr('fill', 'none').attr('stroke', '#8c8c8c').attr('stroke-width', 0.9);

  // axes
  const yAxis = g.append('g')
    .attr('transform', `translate(${p.x0},0)`)
    .call(d3.axisLeft(y).tickValues(yTicks).tickSize(3).tickPadding(2).tickFormat(d => String(d)));
  const xAxis = g.append('g')
    .attr('transform', `translate(0,${p.y1})`)
    .call(d3.axisBottom(x).tickValues([1, 2, 3]).tickSize(3).tickPadding(2).tickFormat(d => p.groups[d - 1]));
  [yAxis, xAxis].forEach(ax => {
    ax.select('.domain').remove();
    ax.selectAll('line').attr('stroke', '#555');
    ax.attr('font-family', '"Liberation Sans", Arial, sans-serif')
      .attr('font-size', 11.5 * p.s);
    ax.selectAll('text').attr('fill', '#4d4d4d');
  });

  // x title
  svg.append('text')
    .attr('x', (p.x0 + p.x1) / 2).attr('y', p.sy)
    .attr('text-anchor', 'middle')
    .attr('font-size', 16 * p.s)
    .attr('fill', '#000')
    .text(snps[k]);

  // y title
  svg.append('text')
    .attr('transform', `translate(${p.yl},${(p.y0 + p.y1) / 2}) rotate(-90)`)
    .attr('text-anchor', 'middle')
    .attr('font-size', 14 * p.s)
    .attr('fill', '#000')
    .text('Normalized Intron Excision Ratio');

  // panel letter + title
  svg.append('text')
    .attr('x', p.lx).attr('y', p.ty)
    .attr('font-size', 18 * p.s)
    .attr('font-weight', 'bold')
    .text(letters[k]);
  const t = svg.append('text')
    .attr('x', p.tx).attr('y', p.ty)
    .attr('font-size', 17 * p.s);
  t.append('tspan').attr('font-style', 'italic').text(genes[k]);
  t.append('tspan').text(' ' + loci[k]);
}

panels.forEach(drawPanel);

</script>
</body>
</html>
